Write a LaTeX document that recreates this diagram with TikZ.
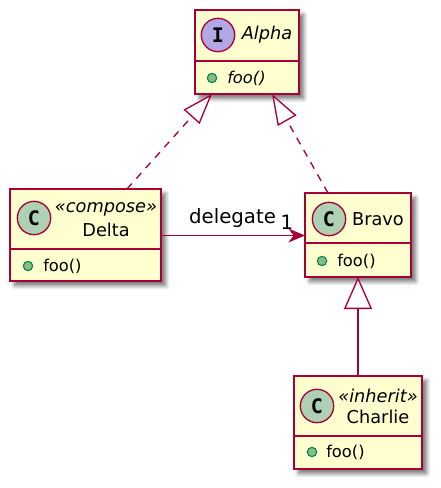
\documentclass[tikz,border=0pt]{standalone}
\usepackage{xcolor}
\usepackage{fontspec}
\setmainfont{DejaVu Sans}
\newfontfamily\spotfont{DejaVu Sans Mono}[BoldFont={DejaVu Sans Mono Bold}]
\usetikzlibrary{arrows.meta, positioning, shadows.blur, calc}
\definecolor{umlred}{HTML}{A80036}
\definecolor{umlfill}{HTML}{FEFECE}
\definecolor{spotclass}{HTML}{ADD1B2}
\definecolor{spotiface}{HTML}{B4A7E5}
\definecolor{methodfill}{HTML}{84BE84}
\definecolor{methoddraw}{HTML}{038048}

\begin{document}
\begin{tikzpicture}[
          x=0.75pt, y=-0.75pt,
          classBox/.style={rectangle, draw=umlred, fill=umlfill, line width=1.9pt, outer sep=0pt, inner sep=0pt, blur shadow={shadow xshift=3.5pt, shadow yshift=-3.5pt, shadow blur steps=8, shadow blur radius=3pt, shadow opacity=55}},
          classSpot/.style={circle, draw=umlred, fill=spotclass, line width=1pt, minimum size=25pt, inner sep=0pt, font=\spotfont\fontsize{15}{15}\selectfont\bfseries},
          ifaceSpot/.style={classSpot, fill=spotiface},
          title/.style={inner sep=0pt, font=\fontsize{13.3}{15}\selectfont},
          italicTitle/.style={title, font=\fontsize{13.3}{15}\selectfont\itshape},
          method/.style={inner sep=0pt, anchor=west, font=\fontsize{12.2}{14}\selectfont},
          methodDot/.style={circle, draw=methoddraw, fill=methodfill, line width=0.8pt, minimum size=7pt, inner sep=0pt},
          divider/.style={draw=umlred, line width=1.2pt},
          realize/.style={draw=umlred, line width=1pt, dash pattern=on 5.5pt off 5pt, -{Triangle[length=23pt, width=16pt, fill=white]}},
          extend/.style={draw=umlred, line width=1pt, -{Triangle[length=24pt, width=21pt, fill=white]}},
          flow/.style={draw=umlred, line width=1pt, -{Stealth[length=12.5pt, width=10.5pt]}},
          edgeLabel/.style={inner sep=0pt, font=\fontsize{14.8}{16}\selectfont}
        ]
          \useasboundingbox (0,0) rectangle (441,488);

          % classes
          \node[classBox, minimum width=78pt, minimum height=63pt] (alpha) at (247,52) {};
          \node[classBox, minimum width=113.25pt, minimum height=69pt] (delta) at (85.5,235) {};
          \node[classBox, minimum width=79.5pt, minimum height=63pt] (bravo) at (358,235) {};
          \node[classBox, minimum width=96pt, minimum height=69.75pt] (charlie) at (358,422.5) {};

          % dividers
          \draw[divider] (alpha.west |- 0,61) -- (alpha.east |- 0,61);
          \draw[divider] (delta.west |- 0,249) -- (delta.east |- 0,249);
          \draw[divider] (bravo.west |- 0,243) -- (bravo.east |- 0,243);
          \draw[divider] (charlie.west |- 0,436) -- (charlie.east |- 0,436);

          % spots
          \node[ifaceSpot] (alphaSpot) at (218,35) {I};
          \node[classSpot] (deltaSpot) at (34,218) {C};
          \node[classSpot] (bravoSpot) at (329,219) {C};
          \node[classSpot] (charlieSpot) at (317,406) {C};

          % names
          \node[italicTitle] (alphaName) at (267,35) {Alpha};
          \node[italicTitle] (deltaKind) at (106,209) {«compose»};
          \node[title] (deltaName) at (106,230) {Delta};
          \node[title] (bravoName) at (378,219) {Bravo};
          \node[italicTitle] (charlieKind) at (378,396) {«inherit»};
          \node[title] (charlieName) at (378,417) {Charlie};

          % methods
          \node[methodDot] (alphaDot) at (212,78) {};
          \node[method, font=\fontsize{12.2}{14}\selectfont\itshape] (alphaFoo) at (227,78) {foo()};
          \node[methodDot] (deltaDot) at (28,266) {};
          \node[method] (deltaFoo) at (43,266) {foo()};
          \node[methodDot] (bravoDot) at (322,261) {};
          \node[method] (bravoFoo) at (337,261) {foo()};
          \node[methodDot] (charlieDot) at (312,452) {};
          \node[method] (charlieFoo) at (326,452) {foo()};

          % connectors
          \coordinate (deltaTop) at (127,189);
          \coordinate (alphaLeft) at (212,94);
          \coordinate (bravoTop) at (328,193);
          \coordinate (alphaRight) at (272,94);
          \draw[realize] (deltaTop) -- (alphaLeft);
          \draw[realize] (bravoTop) -- (alphaRight);
          \draw[extend] (charlie.north) -- (bravo.south);
          \draw[flow] (delta.east |- 0,235.5) -- (bravo.west |- 0,235.5);
          \node[edgeLabel] (delegateLabel) at (232.5,218) {delegate};
          \node[edgeLabel] (oneLabel) at (287,222) {1};
        \end{tikzpicture}
\end{document}
